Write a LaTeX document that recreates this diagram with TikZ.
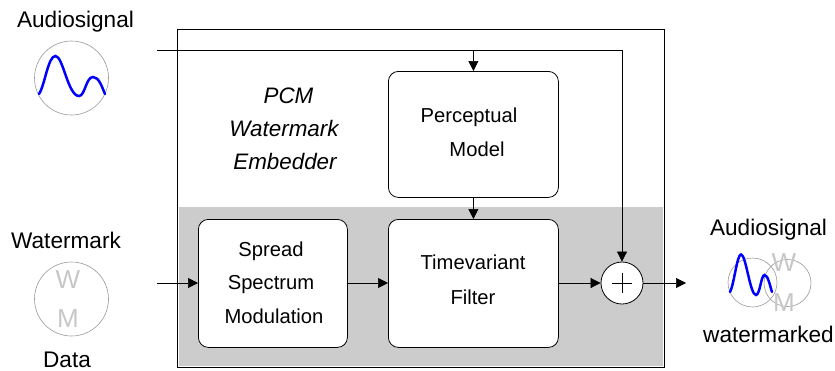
\documentclass[tikz,border=0pt]{standalone}
\usepackage{fontspec}
\setmainfont{Liberation Sans}
\usetikzlibrary{arrows.meta}
\definecolor{panel}{gray}{0.8}
\definecolor{marklight}{gray}{0.78}
\definecolor{ringgray}{gray}{0.6}
\tikzset{
  x=1pt,y=-1pt,
  block/.style={draw=black,fill=white,rounded corners=10pt,line width=0.8pt,inner sep=0pt,anchor=north west},
  blocktext/.style={font=\fontsize{20.2}{24}\selectfont,inner sep=0pt,anchor=base},
  emtext/.style={font=\fontsize{22.4}{24}\selectfont\itshape,inner sep=0pt,anchor=base},
  lab/.style={font=\fontsize{22.6}{24}\selectfont,inner sep=0pt,anchor=base},
  ring/.style={circle,draw=ringgray,line width=0.6pt,inner sep=0pt},
  conn/.style={draw=black,line width=0.7pt,-{Triangle[length=10pt,width=10pt]}},
  wave/.style={draw=blue,line width=2.5pt,line cap=round},
}
\begin{document}
\begin{tikzpicture}
\useasboundingbox (0,0) rectangle (835,370);
% main frame
\node[draw=black,line width=0.8pt,minimum width=487pt,minimum height=338pt,inner sep=0pt,anchor=north west] (frame) at (177,29) {};
\fill[panel] (179,207) rectangle (662.5,365.5);
% blocks
\node[block,minimum width=170pt,minimum height=126pt] (perc) at (388,71) {};
\node[block,minimum width=149pt,minimum height=128pt] (spread) at (198,219) {};
\node[block,minimum width=170pt,minimum height=128pt] (filter) at (388,219) {};
\node[circle,draw=black,fill=white,line width=0.8pt,minimum size=42pt,inner sep=0pt] (sum) at (622,283) {};
\draw[line width=0.5pt] (622,273) -- (622,293) (612,283) -- (632,283);
% block texts
\node[blocktext] (tpercA) at (469,122) {Perceptual};
\node[blocktext] (tpercB) at (477,156) {Model};
\node[blocktext] (tspreadA) at (271,256) {Spread};
\node[blocktext] (tspreadB) at (271,289.5) {Spectrum};
\node[blocktext] (tspreadC) at (274,323) {Modulation};
\node[blocktext] (tfilterA) at (473,269) {Timevariant};
\node[blocktext] (tfilterB) at (473,304) {Filter};
\node[emtext] (emA) at (288.5,103) {PCM};
\node[emtext] (emB) at (284,136) {Watermark};
\node[emtext] (emC) at (285,169) {Embedder};
% left sources
\node[lab] (laudio) at (75.5,27) {Audiosignal};
\node[ring,minimum size=74pt] (src) at (71.5,78) {};
\draw[wave] (39,94) .. controls (45,85) and (48,56) .. (55.5,56)
  .. controls (63,56) and (68,96) .. (79,96)
  .. controls (85,96) and (86,77) .. (93,77)
  .. controls (99,77) and (102,87) .. (105,94);
\node[lab] (lwm) at (66,248) {Watermark};
\node[ring,minimum size=74pt] (wm) at (71.5,299) {};
\node[font=\fontsize{26}{28}\selectfont,text=marklight,inner sep=0pt] (wmW) at (68,280) {W};
\node[font=\fontsize{26}{28}\selectfont,text=marklight,inner sep=0pt] (wmM) at (68,319) {M};
\node[lab] (ldata) at (67,367) {Data};
% right output
\node[lab] (lout) at (768.5,235) {Audiosignal};
\node[ring,minimum size=47pt] (outB) at (787.5,283) {};
\node[font=\fontsize{26}{28}\selectfont,text=marklight,inner sep=0pt] (outW) at (784,263) {W};
\node[font=\fontsize{26}{28}\selectfont,text=marklight,inner sep=0pt] (outM) at (784,303) {M};
\node[ring,minimum size=49pt] (outA) at (752.5,282.5) {};
\draw[wave] (730,292) .. controls (734,285) and (737,254.5) .. (741,254.5)
  .. controls (746,254.5) and (750,295) .. (756,295)
  .. controls (760,295) and (761,275) .. (764.5,275)
  .. controls (768,275) and (770,286) .. (772,292);
\node[lab] (lwmk) at (768.5,342.5) {watermarked};
% connectors
\coordinate (inA) at (157,50);
\coordinate (inB) at (157,283);
\coordinate (outEnd) at (686,283);
\coordinate (tap) at (perc.north |- inA);
\draw[draw=black,line width=0.7pt] (inA) -- (inA -| sum.north);
\draw[conn] (inA -| sum.north) -- (sum.north);
\draw[conn] (tap) -- (perc.north);
\draw[conn] (perc.south) -- (filter.north);
\draw[conn] (inB) -- (spread.west |- inB);
\draw[conn] (spread.east |- inB) -- (filter.west |- inB);
\draw[conn] (filter.east |- sum.west) -- (sum.west);
\draw[conn] (sum.east) -- (outEnd);
\end{tikzpicture}
\end{document}
